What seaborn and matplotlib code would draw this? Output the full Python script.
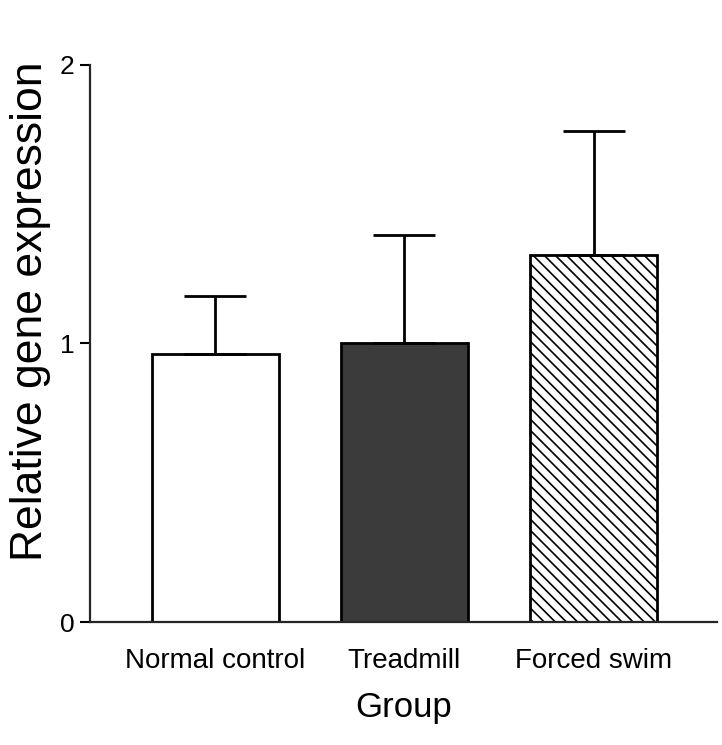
import matplotlib
matplotlib.use("Agg")
import matplotlib.pyplot as plt
import seaborn as sns
import pandas as pd

# data
groups = ["Normal control", "Treadmill", "Forced swim"]
means = [0.962, 1.0, 1.318]
sem_upper = [0.209, 0.39, 0.445]
colors = ["#ffffff", "#3b3b3b", "#ffffff"]

df = pd.DataFrame({"Group": groups, "Expression": means})

sns.set_style("ticks")
plt.rcParams["font.family"] = ["Liberation Sans", "DejaVu Sans"]
plt.rcParams["hatch.linewidth"] = 1.2
plt.rcParams["hatch.color"] = "black"
plt.rcParams["text.color"] = "black"
plt.rcParams["axes.labelcolor"] = "black"
plt.rcParams["xtick.color"] = "black"
plt.rcParams["ytick.color"] = "black"

fig = plt.figure(figsize=(7.22, 7.45), dpi=100)
ax = fig.add_axes([0.1247, 0.1651, 0.8684, 0.7477])

sns.barplot(data=df, x="Group", y="Expression", hue="Group", palette=colors,
            legend=False, edgecolor="black", linewidth=2, width=0.67,
            errorbar=None, ax=ax)
ax.patches[2].set_hatch("\\\\\\")

# upper-only error bars
ax.errorbar(x=range(len(groups)), y=means, yerr=[[0] * 3, sem_upper],
            fmt="none", ecolor="black", elinewidth=2, capsize=22, capthick=2,
            zorder=5)

ax.set_xlim(-0.66, 2.65)
ax.set_ylim(0, 2)
ax.set_yticks([0, 1, 2])
ax.tick_params(axis="y", length=7, width=1.5, labelsize=19, pad=4)
ax.tick_params(axis="x", length=0, pad=19)
narrow = ["Liberation Sans Narrow", "Liberation Sans"]
for lab in ax.get_xticklabels():
    lab.set_family(narrow)
    lab.set_fontstretch("condensed")
    lab.set_fontsize(20)

sns.despine(ax=ax)
for s in ["left", "bottom"]:
    ax.spines[s].set_linewidth(1.6)

ax.set_xlabel("Group", fontsize=25, family=narrow, labelpad=12)
ax.set_ylabel("Relative gene expression", fontsize=32)
ax.yaxis.set_label_coords(-0.063, 0.558)

fig.savefig("out.png", dpi=100, facecolor="white")
